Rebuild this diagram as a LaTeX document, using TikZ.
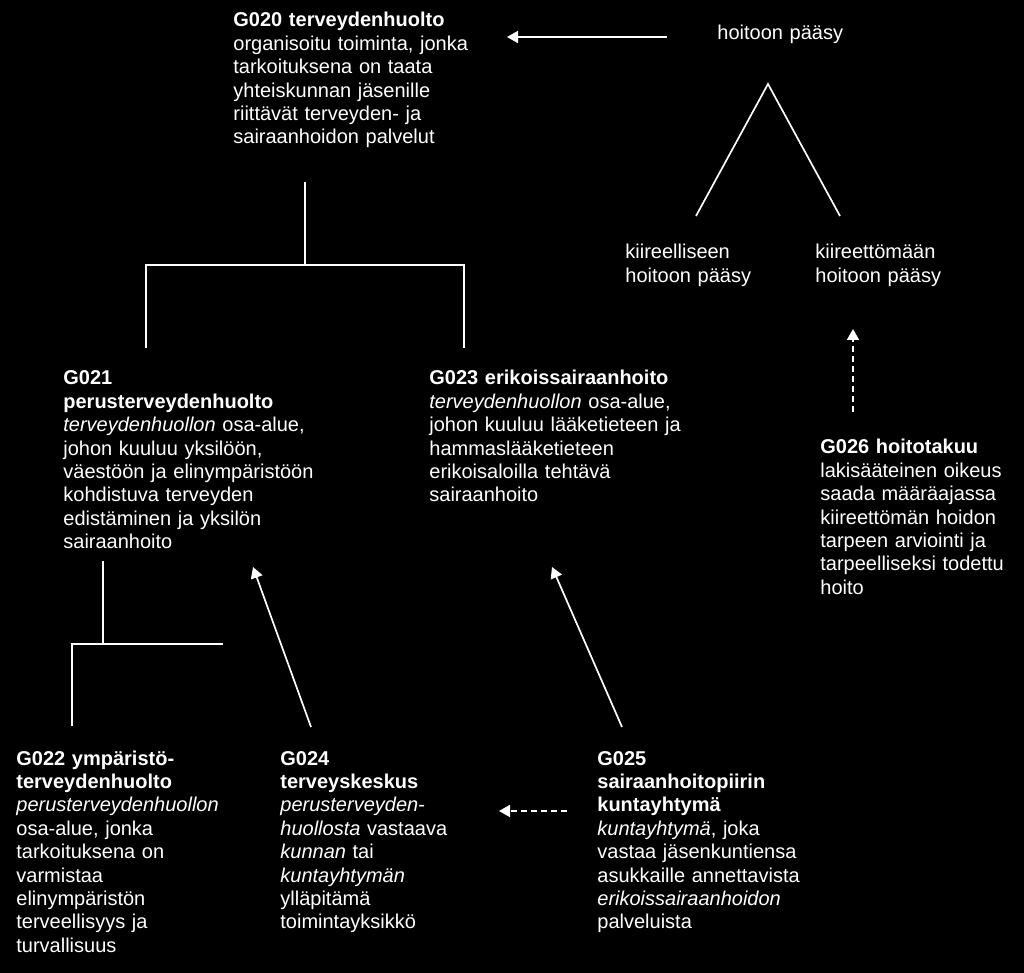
\documentclass[tikz,border=0pt]{standalone}
\usepackage{fontspec}
\setmainfont{Liberation Sans}
\usetikzlibrary{arrows.meta}
\tikzset{
  termi/.style={anchor=base west,inner sep=0pt,text width=160pt,align=left,white,
    font=\fontsize{10}{11.7}\selectfont},
  viiva/.style={white,line width=.85pt},
  nuoli/.style={viiva,-{Triangle[length=5.5pt,width=6pt]}},
  katko/.style={nuoli,dash pattern=on 3pt off 2pt}
}
\begin{document}
\begin{tikzpicture}[x=.5pt,y=-.5pt]
    \useasboundingbox[fill=black] (0,0) rectangle (1024,973);
    \node[termi] (g020) at (233,27) {\textbf{G020 terveydenhuolto}\\organisoitu toiminta, jonka\\tarkoituksena on taata\\yhteiskunnan jäsenille\\riittävät terveyden- ja\\sairaanhoidon palvelut};
    \node[termi] (paasy) at (717,40) {hoitoon pääsy};
    \node[termi] (kiir) at (625,259) {kiireelliseen\\hoitoon pääsy};
    \node[termi] (eikiir) at (815,259) {kiireettömään\\hoitoon pääsy};
    \node[termi] (g021) at (63,385) {\textbf{G021}\\\textbf{perusterveydenhuolto}\\\textit{terveydenhuollon} osa-alue,\\johon kuuluu yksilöön,\\väestöön ja elinympäristöön\\kohdistuva terveyden\\edistäminen ja yksilön\\sairaanhoito};
    \node[termi] (g023) at (429,385) {\textbf{G023 erikoissairaanhoito}\\\textit{terveydenhuollon} osa-alue,\\johon kuuluu lääketieteen ja\\hammaslääketieteen\\erikoisaloilla tehtävä\\sairaanhoito};
    \node[termi] (g026) at (820,454) {\textbf{G026 hoitotakuu}\\lakisääteinen oikeus\\saada määräajassa\\kiireettömän hoidon\\tarpeen arviointi ja\\tarpeelliseksi todettu\\hoito};
    \node[termi] (g022) at (16,765) {\textbf{G022 ympäristö-}\\\textbf{terveydenhuolto}\\\textit{perusterveydenhuollon}\\osa-alue, jonka\\tarkoituksena on\\varmistaa\\elinympäristön\\terveellisyys ja\\turvallisuus};
    \node[termi] (g024) at (280,765) {\textbf{G024}\\\textbf{terveyskeskus}\\\textit{perusterveyden-}\\\textit{huollosta} vastaava\\\textit{kunnan} tai\\\textit{kuntayhtymän}\\ylläpitämä\\toimintayksikkö};
    \node[termi] (g025) at (597,765) {\textbf{G025}\\\textbf{sairaanhoitopiirin}\\\textbf{kuntayhtymä}\\\textit{kuntayhtymä}, joka\\vastaa jäsenkuntiensa\\asukkaille annettavista\\\textit{erikoissairaanhoidon}\\palveluista};
    \coordinate (paasy-l) at (667,37);
    \coordinate (g020-r) at (507,37);
    \coordinate (huippu) at (768,84);
    \coordinate (kiir-y) at (696,216);
    \coordinate (eikiir-y) at (840,216);
    \coordinate (g020-a) at (305,182);
    \coordinate (haara1) at (305,265);
    \coordinate (g021-y) at (146,348);
    \coordinate (g023-y) at (464,348);
    \coordinate (g021-a) at (103,561);
    \coordinate (haara2) at (103,644);
    \coordinate (g022-y) at (72,726);
    \coordinate (haara2-r) at (223,644);
    \coordinate (g024-y) at (311,727);
    \coordinate (g021-b) at (253,567);
    \coordinate (g025-y) at (622,727);
    \coordinate (g023-a) at (552,567);
    \coordinate (g026-y) at (853,412);
    \coordinate (eikiir-a) at (853,329);
    \coordinate (g025-l) at (567,811);
    \coordinate (g024-r) at (499,811);
    \draw[nuoli] (paasy-l) -- (g020-r);
    \draw[viiva] (kiir-y) -- (huippu) -- (eikiir-y);
    \draw[viiva] (g020-a) -- (haara1);
    \draw[viiva] (g021-y) |- (haara1) -| (g023-y);
    \draw[viiva] (g021-a) -- (haara2);
    \draw[viiva] (g022-y) |- (haara2-r);
    \draw[nuoli] (g024-y) -- (g021-b);
    \draw[nuoli] (g025-y) -- (g023-a);
    \draw[katko] (g026-y) -- (eikiir-a);
    \draw[katko] (g025-l) -- (g024-r);
\end{tikzpicture}
\end{document}
